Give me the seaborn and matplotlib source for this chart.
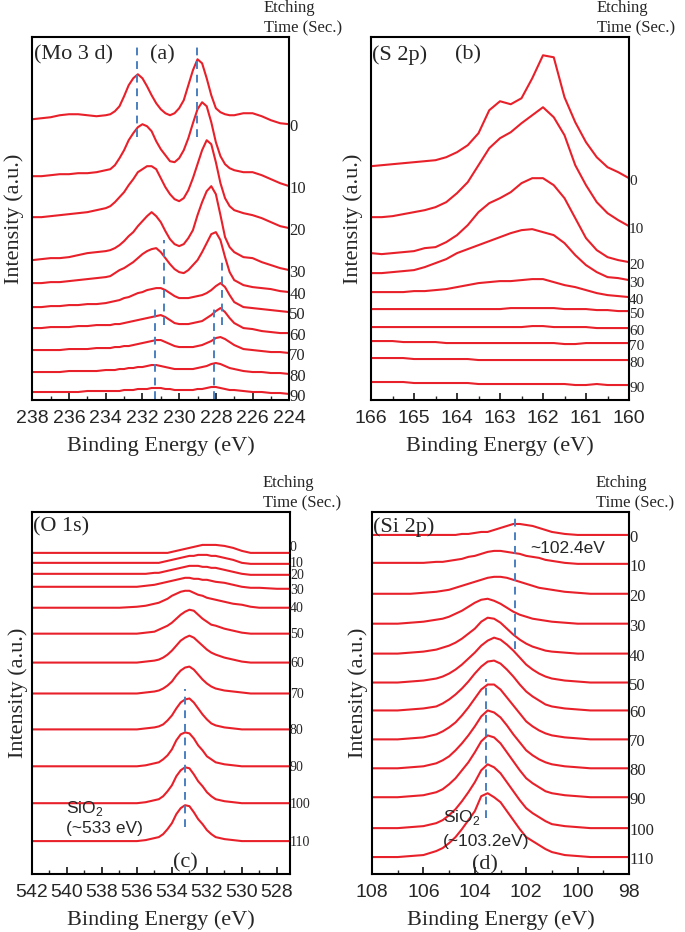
import matplotlib
matplotlib.use("Agg")
import matplotlib.pyplot as plt
import matplotlib.transforms as mtransforms
from matplotlib.ticker import MultipleLocator
import pandas as pd
import seaborn as sns

# ---------------- data (intensity in a.u., stacked) ----------------
mo_times = [0, 10, 20, 30, 40, 50, 60, 70, 80, 90]
mo_energy = [238, 237.5, 237, 236.5, 236, 235.5, 235, 234.5, 234,
             233.75, 233.5, 233.25, 233, 232.75, 232.5, 232.25, 232, 231.75, 231.5,
             231.25, 231, 230.75, 230.5, 230.25, 230, 229.75, 229.5, 229.25, 229,
             228.75, 228.5, 228.25, 228, 227.75, 227.5, 227.25, 227,
             226.5, 226, 225.5, 225, 224.5, 224]
mo_intensity = [
    [281, 282, 283, 285, 286, 286, 285, 284, 285,
     286, 289, 294, 304, 315, 322, 326, 322, 314, 305, 297, 291, 287, 285, 287, 292, 300, 315, 330, 341,
     337, 322, 305, 292, 288, 286, 285, 285, 287, 287, 284, 280, 277, 276],
    [224, 224, 225, 226, 226, 227, 227, 228, 230,
     231, 235, 242, 250, 260, 267, 273, 276, 274, 269, 259, 251, 245, 239, 238, 242, 250, 262, 277, 291,
     298, 294, 278, 258, 244, 236, 232, 230, 228, 228, 225, 221, 217, 214],
    [183, 183, 184, 185, 186, 187, 188, 190, 192,
     194, 198, 203, 208, 215, 221, 228, 231, 234, 234, 231, 222, 213, 206, 201, 199, 202, 210, 222, 236,
     250, 260, 256, 238, 217, 202, 194, 190, 187, 185, 182, 178, 174, 172],
    [140, 141, 142, 142, 143, 145, 147, 148, 149,
     150, 152, 155, 159, 164, 168, 174, 179, 184, 188, 184, 178, 169, 161, 156, 154, 156, 162, 170, 185,
     198, 209, 214, 206, 185, 163, 153, 148, 143, 142, 138, 135, 132, 130],
    [117, 117, 118, 118, 119, 120, 121, 122, 123,
     124, 127, 130, 132, 135, 138, 142, 146, 149, 151, 152, 148, 142, 136, 131, 128, 127, 130, 135, 140,
     148, 157, 166, 168, 160, 143, 128, 120, 115, 113, 112, 111, 109, 108],
    [93, 93, 94, 94, 95, 95, 96, 96, 97,
     98, 99, 100, 102, 103, 105, 107, 108, 110, 111, 112, 112, 110, 107, 104, 102, 102, 102, 103, 104,
     105, 107, 110, 114, 117, 113, 105, 98, 93, 92, 91, 90, 89, 88],
    [72, 72, 73, 73, 73, 74, 74, 75, 75,
     75, 76, 76, 77, 78, 79, 80, 81, 82, 83, 84, 85, 83, 80, 77, 76, 76, 76, 77, 78,
     79, 82, 85, 89, 92, 88, 82, 77, 72, 71, 69, 68, 67, 67],
    [50, 50, 50, 50, 51, 51, 51, 52, 52,
     52, 53, 53, 54, 54, 55, 56, 57, 58, 59, 60, 60, 58, 56, 54, 53, 53, 53, 53, 54,
     55, 57, 59, 62, 63, 61, 58, 55, 51, 50, 49, 48, 48, 47],
    [28, 28, 28, 28, 29, 29, 29, 29, 30,
     30, 30, 31, 31, 32, 32, 33, 33, 34, 35, 35, 34, 33, 32, 31, 31, 31, 31, 31, 32,
     33, 34, 36, 37, 36, 34, 32, 31, 29, 28, 28, 27, 27, 26],
    [8, 8, 8, 8, 8, 8, 9, 9, 9,
     9, 9, 9, 10, 10, 10, 11, 11, 11, 12, 12, 12, 11, 11, 10, 10, 10, 10, 10, 11,
     11, 12, 13, 13, 12, 11, 10, 10, 9, 8, 8, 7, 7, 6],
]

s_times = [0, 10, 20, 30, 40, 50, 60, 70, 80, 90]
s_energy = [166, 165.75, 165.5, 165.25, 165, 164.75, 164.5, 164.25, 164, 163.75, 163.5, 163.25,
            163, 162.75, 162.5, 162.25, 162, 161.75, 161.5, 161.25, 161, 160.75, 160.5, 160.25, 160]
s_intensity = [
    [234, 235, 236, 237, 238, 239, 240, 243, 248, 255, 267, 290, 299, 296, 302, 322, 345, 343, 303, 278, 258, 243, 233, 228, 222],
    [183, 183, 184, 186, 188, 190, 193, 198, 207, 218, 235, 252, 262, 268, 277, 285, 293, 283, 265, 235, 215, 198, 187, 180, 174],
    [147, 146, 147, 148, 149, 152, 153, 158, 165, 175, 188, 197, 202, 208, 217, 222, 222, 215, 202, 182, 162, 150, 143, 140, 138],
    [127, 127, 128, 129, 130, 133, 137, 141, 147, 151, 155, 159, 163, 167, 170, 171, 168, 165, 157, 145, 135, 128, 123, 122, 120],
    [108, 108, 108, 108, 109, 109, 110, 111, 113, 115, 117, 118, 119, 119, 120, 121, 121, 118, 115, 113, 110, 107, 105, 104, 103],
    [91, 91, 91, 91, 91, 91, 91, 91, 91, 91, 91, 91, 91, 92, 92, 92, 92, 92, 91, 91, 91, 90, 90, 89, 89],
    [73, 73, 73, 73, 73, 73, 73, 73, 73, 73, 73, 73, 73, 73, 73, 74, 74, 73, 73, 73, 73, 72, 72, 72, 72],
    [59, 59, 59, 58, 58, 58, 58, 57, 57, 57, 57, 57, 57, 57, 57, 57, 57, 57, 56, 56, 57, 57, 57, 57, 57],
    [42, 42, 42, 42, 41, 41, 41, 41, 41, 41, 40, 40, 40, 40, 40, 40, 40, 40, 40, 40, 40, 40, 40, 40, 40],
    [18, 18, 18, 18, 17, 17, 17, 17, 17, 17, 16, 16, 16, 16, 16, 16, 16, 16, 16, 15, 15, 16, 15, 15, 15],
]

o_times = [0, 10, 20, 30, 40, 50, 60, 70, 80, 90, 100, 110]
o_energy = [542, 539, 537, 536, 535.5, 535, 534.75, 534.5, 534.25, 534, 533.75, 533.5, 533.25,
            533, 532.75, 532.5, 532.25, 532, 531.75, 531.5, 531, 530.5, 530, 529.5, 529, 528, 527.25]
o_intensity = [
    [322, 322, 322, 322, 322, 322, 322, 322, 322, 323, 324, 325, 326, 327, 328, 329, 330, 330, 330, 330, 329, 327, 324, 322, 322, 322, 322],
    [312, 312, 312, 312, 312, 312, 312, 313, 314, 315, 316, 317, 318, 319, 319, 320, 320, 320, 319, 319, 317, 315, 312, 311, 311, 311, 311],
    [301, 301, 301, 301, 301, 302, 302, 303, 304, 305, 306, 307, 308, 309, 309, 309, 308, 308, 307, 307, 305, 303, 301, 300, 300, 300, 300],
    [288, 288, 288, 288, 289, 290, 291, 292, 293, 294, 295, 296, 297, 297, 296, 296, 295, 295, 294, 293, 292, 290, 288, 287, 287, 286, 286],
    [267, 267, 267, 268, 269, 271, 272, 274, 276, 279, 281, 283, 284, 284, 282, 280, 279, 277, 276, 275, 273, 271, 270, 268, 267, 267, 267],
    [241, 241, 241, 241, 242, 243, 245, 247, 249, 252, 256, 260, 263, 265, 264, 260, 256, 253, 250, 249, 246, 244, 242, 241, 241, 241, 241],
    [212, 212, 212, 212, 213, 214, 215, 217, 220, 224, 229, 234, 237, 239, 237, 233, 229, 225, 222, 220, 217, 215, 213, 212, 212, 212, 212],
    [181, 181, 181, 181, 182, 183, 184, 186, 189, 193, 199, 204, 207, 208, 205, 200, 195, 191, 188, 186, 184, 183, 182, 181, 181, 181, 181],
    [145, 145, 145, 145, 146, 147, 148, 150, 154, 159, 166, 172, 175, 176, 172, 166, 160, 155, 151, 149, 147, 146, 145, 145, 145, 145, 145],
    [108, 108, 108, 108, 109, 111, 112, 115, 119, 125, 134, 140, 142, 141, 136, 129, 124, 118, 115, 112, 110, 109, 108, 108, 108, 108, 108],
    [71, 71, 71, 71, 72, 74, 75, 78, 83, 89, 98, 104, 107, 106, 100, 93, 88, 82, 78, 75, 73, 72, 71, 71, 71, 71, 71],
    [33, 33, 33, 33, 34, 36, 37, 40, 45, 51, 60, 66, 69, 68, 62, 55, 50, 44, 40, 37, 35, 34, 33, 33, 33, 33, 33],
]

si_times = [0, 10, 20, 30, 40, 50, 60, 70, 80, 90, 100, 110]
si_energy = [108, 107.5, 107, 106.5, 106, 105.5, 105.25, 105, 104.75, 104.5, 104.25, 104, 103.75,
             103.5, 103.25, 103, 102.75, 102.5, 102.25, 102, 101.75, 101.5, 101.25, 101, 100.5,
             100, 99.5, 99, 98.5, 98]
si_intensity = [
    [340, 340, 340, 340, 340, 340, 340, 340, 340, 341, 341, 342, 343, 343, 345, 347, 349, 351, 351, 350, 349, 347, 345, 343, 341, 340, 340, 340, 340, 340],
    [312, 312, 312, 312, 312, 313, 313, 314, 315, 316, 318, 319, 321, 323, 324, 324, 323, 322, 321, 319, 318, 317, 315, 314, 312, 311, 311, 311, 311, 311],
    [281, 281, 281, 281, 282, 283, 284, 285, 287, 289, 291, 293, 295, 297, 298, 298, 297, 295, 293, 291, 289, 287, 286, 285, 283, 282, 281, 281, 281, 281],
    [251, 251, 251, 252, 253, 255, 256, 258, 261, 264, 268, 272, 275, 276, 274, 271, 267, 263, 260, 258, 256, 255, 254, 253, 252, 251, 251, 251, 251, 251],
    [221, 221, 221, 222, 223, 225, 227, 229, 232, 236, 241, 246, 253, 257, 256, 252, 246, 240, 235, 231, 228, 226, 224, 223, 222, 221, 221, 221, 221, 221],
    [192, 192, 192, 193, 194, 196, 198, 201, 205, 210, 216, 222, 229, 234, 237, 235, 230, 224, 217, 210, 205, 201, 198, 196, 194, 193, 192, 192, 192, 192],
    [164, 164, 164, 165, 166, 168, 171, 175, 180, 186, 193, 201, 208, 213, 214, 211, 205, 198, 190, 183, 178, 174, 170, 168, 166, 165, 164, 164, 164, 164],
    [135, 135, 135, 136, 137, 140, 143, 147, 152, 159, 167, 176, 185, 190, 190, 185, 177, 169, 161, 153, 148, 144, 141, 139, 137, 136, 135, 135, 135, 135],
    [106, 106, 106, 107, 108, 111, 114, 118, 124, 131, 139, 148, 158, 164, 162, 157, 149, 140, 132, 124, 119, 115, 112, 110, 108, 107, 106, 106, 106, 106],
    [77, 77, 77, 78, 79, 82, 85, 90, 96, 104, 112, 122, 133, 139, 137, 131, 122, 113, 104, 96, 91, 87, 83, 81, 79, 78, 77, 77, 77, 77],
    [46, 46, 46, 47, 48, 51, 54, 59, 65, 73, 82, 92, 104, 110, 107, 101, 92, 83, 74, 66, 61, 57, 53, 50, 48, 47, 46, 46, 46, 46],
    [17, 17, 17, 18, 19, 23, 26, 31, 37, 45, 54, 63, 78, 81, 77, 72, 63, 54, 45, 37, 33, 29, 25, 22, 19, 18, 17, 17, 17, 17],
]

# guide lines: (energy, y from, y to)
mo_guides = [(232.3, 263, 357), (229.05, 263, 357), (230.85, 75, 160), (227.65, 75, 139),
             (231.3, 1, 93), (228.1, 1, 95)]
o_guides = [(533.25, 47, 186)]
si_guides = [(102.45, 226, 361), (103.55, 56, 196)]

RED = "#e8202a"
BLUE = "#4a7fbf"

sns.set_style("ticks")
plt.rcParams['font.family'] = ['Liberation Serif', 'DejaVu Serif']
plt.rcParams['mathtext.fontset'] = 'custom'
plt.rcParams['mathtext.rm'] = 'Liberation Sans'


def draw_panel(ax, energy, spectra, times, xlim, major, minor, guides, ylabelpad,
               label_size=12, label_shift=-3):
    rows = []
    for t, vals in zip(times, spectra):
        for e, v in zip(energy, vals):
            rows.append((e, v, str(t)))
    df = pd.DataFrame(rows, columns=['energy', 'intensity', 'time'])
    sns.lineplot(data=df, x='energy', y='intensity', hue='time',
                 palette=[RED] * len(times), estimator=None, sort=False,
                 legend=False, linewidth=1.5, ax=ax)
    for line in ax.lines:
        line.set_solid_joinstyle('round')
    for e, y0, y1 in guides:
        ax.vlines(e, y0, y1, colors=BLUE, linestyles=(0, (4, 3)), linewidth=1.4)
    ax.set_xlim(*xlim)
    ax.set_ylim(0, 363)
    ax.set_yticks([])
    ax.xaxis.set_major_locator(MultipleLocator(major))
    ax.xaxis.set_minor_locator(MultipleLocator(minor))
    ax.tick_params(axis='x', which='both', direction='in', top=False, pad=7,
                   labelsize=14, labelfontfamily='Liberation Sans')
    ax.tick_params(axis='x', which='major', length=5, width=1.3)
    ax.tick_params(axis='x', which='minor', length=3, width=1.0)
    for sp in ax.spines.values():
        sp.set_linewidth(1.5)
        sp.set_color('black')
    ax.set_xlabel('Binding Energy (eV)', fontsize=16, labelpad=7)
    ax.set_ylabel('Intensity (a.u.)', fontsize=16, labelpad=ylabelpad)
    trans = mtransforms.blended_transform_factory(ax.transAxes, ax.transData)
    if not isinstance(label_shift, list):
        label_shift = [label_shift] * len(times)
    for t, vals, dy in zip(times, spectra, label_shift):
        ax.text(1.0, vals[-1] + dy, str(t), transform=trans, ha='left', va='center',
                fontsize=label_size, clip_on=False)


W, H = 685, 932
fig = plt.figure(figsize=(W / 100, H / 100), dpi=100)


def add_axes(left, top, right, bottom):
    return fig.add_axes([left / W, 1 - bottom / H, (right - left) / W, (bottom - top) / H])


ax_a = add_axes(32.3, 37.3, 289.3, 400)
ax_b = add_axes(371, 37.3, 629, 400)
ax_c = add_axes(32, 512, 290, 874)
ax_d = add_axes(372, 512, 629, 874)

draw_panel(ax_a, mo_energy, mo_intensity, mo_times, (238, 224), 2, 1, mo_guides, 6)
draw_panel(ax_b, s_energy, s_intensity, s_times, (166, 160), 1, 0.5, [], 6, label_size=11)
draw_panel(ax_c, o_energy, o_intensity, o_times, (542, 527.25), 2, 1, o_guides, 3,
           label_size=10, label_shift=[5, 0, -1, -2, -1, -1, -1, -1, -1, -1, -1, -1])
draw_panel(ax_d, si_energy, si_intensity, si_times, (108, 98), 2, 1, si_guides, 3)

ax_a.text(0.005, 0.951, '(Mo 3 d)', transform=ax_a.transAxes, fontsize=16, va='center')
ax_a.text(0.505, 0.951, '(a)', transform=ax_a.transAxes, fontsize=16, va='center', ha='center')
ax_b.text(0.005, 0.951, '(S 2p)', transform=ax_b.transAxes, fontsize=16, va='center')
ax_b.text(0.376, 0.951, '(b)', transform=ax_b.transAxes, fontsize=16, va='center', ha='center')
ax_c.text(0.005, 0.958, '(O 1s)', transform=ax_c.transAxes, fontsize=16, va='center')
ax_c.text(0.593, 0.030, '(c)', transform=ax_c.transAxes, fontsize=16, va='center', ha='center')
ax_c.text(0.132, 0.182, 'SiO$_2$', transform=ax_c.transAxes, fontsize=12.5, va='center',
          family='Liberation Sans')
ax_c.text(0.132, 0.127, '(~533 eV)', transform=ax_c.transAxes, fontsize=12.5, va='center',
          family='Liberation Sans')
ax_d.text(0.005, 0.958, '(Si 2p)', transform=ax_d.transAxes, fontsize=16, va='center')
ax_d.text(0.44, 0.025, '(d)', transform=ax_d.transAxes, fontsize=16, va='center', ha='center')
ax_d.text(0.276, 0.157, 'SiO$_2$', transform=ax_d.transAxes, fontsize=12.5, va='center',
          family='Liberation Sans')
ax_d.text(0.276, 0.091, '(~103.2eV)', transform=ax_d.transAxes, fontsize=12.5, va='center',
          family='Liberation Sans')
ax_d.text(0.615, 0.90, '~102.4eV', transform=ax_d.transAxes, fontsize=12.5, va='center',
          family='Liberation Sans')

for x, y in [(264, 8), (597, 8), (263, 483), (596, 483)]:
    fig.text(x / W, 1 - y / H, 'Etching', fontsize=12, va='center')
    fig.text(x / W, 1 - (y + 20) / H, 'Time (Sec.)', fontsize=12, va='center')

fig.savefig('out.png', dpi=100)
